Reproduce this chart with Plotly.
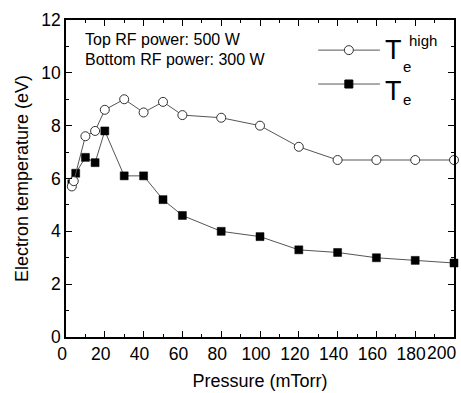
import plotly.graph_objects as go

pressure_high = [3, 4, 10, 15, 20, 30, 40, 50, 60, 80, 100, 120, 140, 160, 180, 200]
te_high = [5.7, 5.9, 7.6, 7.8, 8.6, 9.0, 8.5, 8.9, 8.4, 8.3, 8.0, 7.2, 6.7, 6.7, 6.7, 6.7]

pressure_te = [3, 5, 10, 15, 20, 30, 40, 50, 60, 80, 100, 120, 140, 160, 180, 200]
te = [5.8, 6.2, 6.8, 6.6, 7.8, 6.1, 6.1, 5.2, 4.6, 4.0, 3.8, 3.3, 3.2, 3.0, 2.9, 2.8]

x_ticks = [0, 20, 40, 60, 80, 100, 120, 140, 160, 180, 200]
x_tick_text = ["0", "20", "40", "60", "80", "100", "120", "140", "160", "180", ""]
x_last_label = "200"
y_ticks = [0, 2, 4, 6, 8, 10, 12]

FONT = "Liberation Sans, Arial, sans-serif"
LINE = "#555555"
TICK_SIZE = 17.5

fig = go.Figure()
fig.add_trace(go.Scatter(
    x=pressure_te, y=te, mode="lines+markers",
    line=dict(color=LINE, width=1),
    marker=dict(symbol="square", size=8, color="black", line=dict(color="black", width=0.5)),
    showlegend=False, cliponaxis=False))
fig.add_trace(go.Scatter(
    x=pressure_high, y=te_high, mode="lines+markers",
    line=dict(color=LINE, width=1),
    marker=dict(symbol="circle", size=9, color="white", line=dict(color="#333333", width=1)),
    showlegend=False, cliponaxis=False))

# legend samples on an overlay axis in plot-fraction units
for yy, sym, col in [(0.905, "circle", "white"), (0.798, "square", "black")]:
    fig.add_trace(go.Scatter(
        x=[0.65, 0.729, 0.809], y=[yy, yy, yy], xaxis="x2", yaxis="y2",
        mode="lines", line=dict(color=LINE, width=1), showlegend=False, hoverinfo="skip"))
    fig.add_trace(go.Scatter(
        x=[0.729], y=[yy], xaxis="x2", yaxis="y2", mode="markers",
        marker=dict(symbol=sym, size=9 if sym == "circle" else 8, color=col,
                    line=dict(color="#333333" if sym == "circle" else "black", width=1)),
        showlegend=False, hoverinfo="skip"))

axis_common = dict(
    showline=True, linecolor="black", linewidth=1.5, mirror="ticks",
    ticks="inside", ticklen=6, tickwidth=1.2, tickcolor="black",
    showgrid=False, zeroline=False, tickangle=0, automargin=False,
    tickfont=dict(family=FONT, size=TICK_SIZE, color="black"),
)

fig.update_layout(
    width=461, height=393,
    margin=dict(l=66, r=7, t=20, b=56),
    paper_bgcolor="white", plot_bgcolor="white",
    font=dict(family=FONT, color="black"),
    xaxis=dict(range=[0, 200], tickvals=x_ticks, ticktext=x_tick_text,
               ticklabelshift=-4,
               minor=dict(ticks="inside", ticklen=3, tickwidth=1, tickcolor="black", dtick=10),
               title=dict(text="Pressure (mTorr)", font=dict(family=FONT, size=18), standoff=12),
               **axis_common),
    yaxis=dict(range=[0, 12], tickvals=y_ticks,
               minor=dict(ticks="inside", ticklen=3, tickwidth=1, tickcolor="black", dtick=1),
               title=dict(text="Electron temperature (eV)", font=dict(family=FONT, size=18), standoff=8),
               **axis_common),
    xaxis2=dict(range=[0, 1], overlaying="x", visible=False, fixedrange=True),
    yaxis2=dict(range=[0, 1], overlaying="y", visible=False, fixedrange=True),
)

# last x tick label, right-aligned so that it stays inside the page
fig.add_annotation(text=x_last_label, x=x_ticks[-1], y=0, xref="x", yref="y domain",
                   xanchor="right", yanchor="top", xshift=4, yshift=-4, showarrow=False,
                   font=dict(family=FONT, size=TICK_SIZE, color="black"))

ann = [
    dict(text="Top RF power: 500 W", x=0.045, y=0.937, xanchor="left", yanchor="middle", size=16),
    dict(text="Bottom RF power: 300 W", x=0.045, y=0.874, xanchor="left", yanchor="middle", size=16),
    dict(text="T", x=0.845, y=0.905, xanchor="center", yanchor="middle", size=27),
    dict(text="e", x=0.879, y=0.852, xanchor="center", yanchor="middle", size=15),
    dict(text="high", x=0.92, y=0.934, xanchor="center", yanchor="middle", size=15),
    dict(text="T", x=0.845, y=0.776, xanchor="center", yanchor="middle", size=27),
    dict(text="e", x=0.879, y=0.748, xanchor="center", yanchor="middle", size=15),
]
for a in ann:
    fig.add_annotation(text=a["text"], x=a["x"], y=a["y"], xref="x domain", yref="y domain",
                       xanchor=a["xanchor"], yanchor=a["yanchor"], showarrow=False,
                       font=dict(family=FONT, size=a["size"], color="black"))

fig.write_html("out.html")
